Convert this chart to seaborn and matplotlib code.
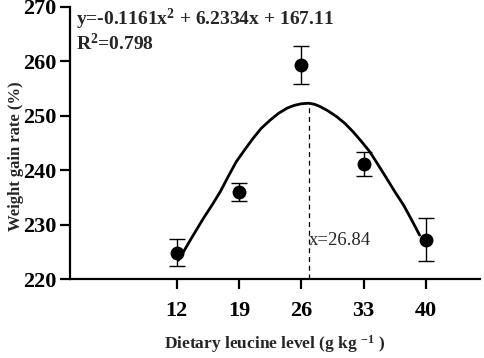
import numpy as np
import pandas as pd
import seaborn as sns
import matplotlib
matplotlib.use("Agg")
import matplotlib.pyplot as plt

# Data
levels = [12, 19, 26, 33, 40]
wgr_mean = [224.9, 236.0, 259.3, 241.2, 227.3]
wgr_err = [2.5, 1.6, 3.5, 2.2, 3.9]

# fitted curve as drawn
curve_x = [12.2, 13.6, 15.0, 16.0, 16.9, 17.8, 18.7, 19.7, 20.6, 21.5, 22.5, 23.4, 24.4, 25.2, 26.0, 26.84,
           27.5, 28.1, 29.0, 30.0, 30.9, 31.8, 32.7, 33.7, 34.6, 35.6, 36.5, 37.5, 38.4, 39.3]
curve_y = [223.5, 227.4, 231.2, 233.7, 236.1, 238.9, 241.6, 243.9, 245.9, 247.7, 249.2, 250.4, 251.4, 251.9, 252.2, 252.3,
           252.1, 251.7, 250.9, 249.8, 248.6, 247.1, 245.4, 243.4, 241.1, 238.5, 236.1, 233.6, 230.9, 228.1]

x_opt = 26.84
peak_y = 252.3
xticks = [12, 19, 26, 33, 40]
yticks = [220, 230, 240, 250, 260, 270]

sns.set_style("ticks")
plt.rcParams['font.family'] = ['Liberation Serif', 'DejaVu Serif']
plt.rcParams['mathtext.fontset'] = 'custom'
plt.rcParams['mathtext.rm'] = 'Liberation Serif'
plt.rcParams['mathtext.bf'] = 'Liberation Serif:bold'
plt.rcParams['mathtext.it'] = 'Liberation Serif:italic'

fig = plt.figure(figsize=(4.84, 3.58), dpi=100)
ax = fig.add_axes([0.1446, 0.2198, 0.8474, 0.7614])

df_pts = pd.DataFrame({"level": levels, "wgr": wgr_mean, "err": wgr_err})
df_curve = pd.DataFrame({"x": curve_x, "y": curve_y})

sns.lineplot(data=df_curve, x="x", y="y", ax=ax, color="black", linewidth=2.0, sort=True)
ax.errorbar(df_pts["level"], df_pts["wgr"], yerr=df_pts["err"], fmt="none",
            ecolor="black", elinewidth=1.0, capsize=5.5, capthick=1.0, zorder=3)
sns.scatterplot(data=df_pts, x="level", y="wgr", ax=ax, color="black", s=100,
                edgecolor="black", linewidth=0, zorder=4)

ax.plot([x_opt, x_opt], [220, peak_y], color="black", linestyle=(0, (4, 3)), linewidth=0.9)
ax.text(x_opt + 0.05, 227.2, "x=26.84", fontsize=13.5, va="center", ha="left")

ax.text(0.015, 1.0, r"y=-0.1161x$^{\mathbf{2}}$ + 6.2334x + 167.11", transform=ax.transAxes,
        fontsize=14, fontweight="bold", va="top", ha="left")
ax.text(0.015, 0.905, r"R$^{\mathbf{2}}$=0.798", transform=ax.transAxes,
        fontsize=14, fontweight="bold", va="top", ha="left")

ax.set_xlim(0, 46.1)
ax.set_ylim(220, 270)
ax.set_xticks(xticks)
ax.set_yticks(yticks)
ax.set_xticklabels([str(t) for t in xticks], fontsize=16, fontweight="bold")
ax.set_yticklabels([str(t) for t in yticks], fontsize=16, fontweight="bold")
ax.tick_params(axis="both", direction="out", length=7.5, width=1.6, colors="black", pad=2)
ax.tick_params(axis="x", pad=8)

ax.set_xlabel(r"Dietary leucine level (g kg $^{\mathbf{-1}}$ )", fontsize=12.5, fontweight="bold")
ax.set_ylabel("Weight gain rate (%)", fontsize=12, fontweight="bold")
ax.xaxis.set_label_coords(0.5, -0.198)
ax.yaxis.set_label_coords(-0.112, 0.45)

sns.despine(ax=ax)
for s in ["left", "bottom"]:
    ax.spines[s].set_linewidth(1.6)
    ax.spines[s].set_color("black")

fig.savefig("out.png", dpi=100)
